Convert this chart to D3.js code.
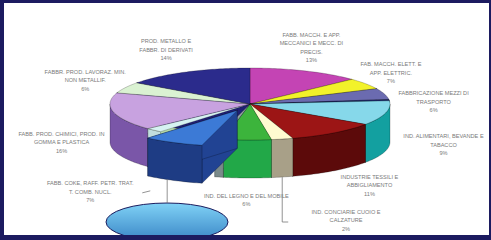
<!DOCTYPE html>
<html>
<head>
<meta charset="utf-8">
<script src="https://cdn.jsdelivr.net/npm/d3@7"></script>
<style>
  body { margin: 0; background: #fff; }
  svg { display: block; }
</style>
</head>
<body>
<svg></svg>
<script>
// sectors, clockwise from 12 o'clock (empty name = no label)
var categories = [
    "FABB. MACCH. E APP.\nMECCANICI E MECC. DI\nPRECIS.",
    "FAB. MACCH. ELETT. E\nAPP. ELETTRIC.",
    "FABBRICAZIONE MEZZI DI\nTRASPORTO",
    "",
    "IND. ALIMENTARI, BEVANDE E\nTABACCO",
    "INDUSTRIE TESSILI E\nABBIGLIAMENTO",
    "IND. CONCIARIE CUOIO E\nCALZATURE",
    "IND. DEL LEGNO E DEL MOBILE",
    "",
    "FABB. COKE, RAFF. PETR. TRAT.\nT. COMB. NUCL.",
    "",
    "FABB. PROD. CHIMICI, PROD. IN\nGOMMA E PLASTICA",
    "FABBR. PROD. LAVORAZ. MIN.\nNON METALLIF.",
    "PROD. METALLO E\nFABBR. DI DERIVATI"
];
var values = [13, 5, 5, 0.6, 11, 10.5, 2.5, 5.5, 1, 7, 2, 17, 5, 15];
var pctLabels = ["13%", "7%", "6%", "", "9%", "11%", "2%", "6%", "", "7%", "", "16%", "6%", "14%"];

var topColors = ["#c444b4", "#f2f22a", "#6b6bb0", "#23307a", "#86d8ea", "#9c1515", "#fffbd0",
                 "#3cb43c", "#8fa0a0", "#3c7ad6", "#d6f2f2", "#c8a2e0", "#daf2d2", "#2b2b8c"];
var sideColors = ["#8a2a80", "#b0b010", "#4a4a88", "#1a2060", "#13a0a0", "#5c0a0a", "#a8a088",
                  "#22a848", "#7a8a8a", "#1e3c84", "#c0dede", "#7a56a8", "#a0c098", "#1c1c66"];
var explodedIndex = 9;

var W = 491, H = 240;
var cx = 250, cy = 104, rx = 140, ry = 36, depth = 38, explode = 0.2;
var lineH = 8.5;

var svg = d3.select("svg").attr("width", W).attr("height", H);

var defs = svg.append("defs");
var grad = defs.append("linearGradient").attr("id", "bubble")
    .attr("x1", 0).attr("y1", 0).attr("x2", 0).attr("y2", 1);
grad.append("stop").attr("offset", "0%").attr("stop-color", "#80d2f6");
grad.append("stop").attr("offset", "100%").attr("stop-color", "#3a86c6");

var pie = d3.pie().sort(null).value(function(d) { return d; });
var arcs = pie(values).map(function(d, i) {
    var mid = (d.startAngle + d.endAngle) / 2;
    var e = i === explodedIndex ? explode : 0;
    d.i = i;
    d.mid = mid;
    d.ox = e * rx * Math.sin(mid);
    d.oy = -e * ry * Math.cos(mid);
    return d;
});

function pt(d, a, r, dz) {
    return [d.ox + cx + rx * r * Math.sin(a), d.oy + cy - ry * r * Math.cos(a) + (dz || 0)];
}
function sample(a0, a1) {
    var n = Math.max(2, Math.ceil((a1 - a0) / 0.02));
    return d3.range(n + 1).map(function(k) { return a0 + (a1 - a0) * k / n; });
}
var line = d3.line();

function topPath(d) {
    var pts = [pt(d, 0, 0)].concat(sample(d.startAngle, d.endAngle).map(function(a) { return pt(d, a, 1); }));
    return line(pts) + "Z";
}
function outerPath(d) {
    var s = Math.max(d.startAngle, Math.PI / 2), e = Math.min(d.endAngle, 3 * Math.PI / 2);
    if (s >= e) return null;
    var a = sample(s, e);
    var pts = a.map(function(t) { return pt(d, t, 1); })
        .concat(a.slice().reverse().map(function(t) { return pt(d, t, 1, depth); }));
    return line(pts) + "Z";
}
function radialPath(d, a) {
    return line([pt(d, a, 0), pt(d, a, 1), pt(d, a, 1, depth), pt(d, a, 0, depth)]) + "Z";
}

function drawSlices(g, list) {
    list.forEach(function(d) {
        [d.startAngle, d.endAngle].forEach(function(a) {
            g.append("path").attr("d", radialPath(d, a))
                .attr("fill", d3.color(sideColors[d.i]).brighter(0.3))
                .attr("stroke", "rgba(0,0,0,0.45)").attr("stroke-width", 0.5);
        });
    });
    list.forEach(function(d) {
        var p = outerPath(d);
        if (p) g.append("path").attr("d", p).attr("fill", sideColors[d.i])
            .attr("stroke", "rgba(0,0,0,0.45)").attr("stroke-width", 0.5);
    });
    list.forEach(function(d) {
        g.append("path").attr("d", topPath(d)).attr("fill", topColors[d.i])
            .attr("stroke", "rgba(0,0,0,0.45)").attr("stroke-width", 0.5);
    });
}

// callout bubble under the chart
svg.append("ellipse")
    .attr("cx", 167).attr("cy", 222).attr("rx", 61).attr("ry", 19)
    .attr("fill", "url(#bubble)").attr("stroke", "#1c1c5e").attr("stroke-width", 1);

drawSlices(svg.append("g"), arcs.filter(function(d) { return d.i !== explodedIndex; }));
drawSlices(svg.append("g"), arcs.filter(function(d) { return d.i === explodedIndex; }));

// labels
var labels = svg.append("g")
    .attr("font-family", "Liberation Sans, Arial, sans-serif")
    .attr("font-size", 5.6)
    .attr("fill", "#7a7a7a").attr("text-anchor", "middle");
var leaders = svg.append("g").attr("fill", "none").attr("stroke", "#777").attr("stroke-width", 0.8);

var prev = null;
arcs.forEach(function(d) {
    if (!categories[d.i]) return;
    var s = Math.sin(d.mid), c = Math.cos(d.mid);
    var x;
    if (s > 0) x = c > 0 ? cx + 185 * s - 12 : cx + 200 * s;
    else x = cx + (c > 0 ? 185 : 193) * s;
    var y = cy + (c > 0 ? 8 - 70 * c : 22 - 74 * c);
    var lines = categories[d.i].split("\n").concat([pctLabels[d.i]]);
    var h = (lines.length - 1) * lineH;

    if (d.i === explodedIndex) {
        x = cx + 350 * s;
        leaders.append("path").attr("d", line([[x + 52, y + 1], [x + 60, y - 1]]));
        var bot = pt(d, d.mid + 0.05, 1, depth);
        leaders.append("path").attr("d", line([[bot[0], bot[1]], [bot[0], 203]]));
    } else if (values[d.i] < 4) {
        var b = pt(d, d.mid, 1, depth);
        x += 50; y += 22;
        leaders.append("path").attr("d", line([[b[0], b[1]], [b[0], y + 2], [b[0] + 6, y + 2]]));
    }
    // push a label down and outward when it runs into the previous one on the right side
    if (prev && s > 0 && c > 0 && y - h / 2 - 4 < prev.bottom && Math.abs(x - prev.x) < 70) {
        y = prev.bottom + h / 2 + 10;
        x += 18;
    }
    lines.forEach(function(t, k) {
        labels.append("text").attr("x", x).attr("y", y - h / 2 + k * lineH + 2).text(t);
    });
    prev = {x: x, bottom: y + h / 2 + 2};
});

// frame
var frame = "#1c1b60";
svg.append("rect").attr("x", 0).attr("y", 0).attr("width", W).attr("height", 3).attr("fill", frame);
svg.append("rect").attr("x", 0).attr("y", 0).attr("width", 4).attr("height", H).attr("fill", frame);
svg.append("rect").attr("x", W - 2).attr("y", 0).attr("width", 2).attr("height", H).attr("fill", frame);
svg.append("rect").attr("x", 0).attr("y", 235).attr("width", W).attr("height", 5).attr("fill", frame);
</script>
</body>
</html>
